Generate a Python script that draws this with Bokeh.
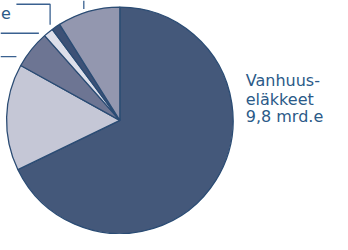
import numpy as np
from bokeh.plotting import figure
from bokeh.models import Range1d, ColumnDataSource
from bokeh.core.properties import value
from bokeh.embed import file_html
from bokeh.resources import INLINE

# --- data (mrd. euroa), clockwise from 12 o'clock ---
categories = ["Vanhuuseläkkeet", "Muu 1", "Muu 2", "Muu 3", "Muu 4", "Muu 5"]
values = [9.8, 2.2, 0.78, 0.2, 0.18, 1.29]
colors = ["#44587a", "#c5c7d6", "#6d7593", "#dddfea", "#3d5176", "#9397af"]
label_lines = ["Vanhuus-", "eläkkeet", "9,8 mrd.e"]
partial_label = "e"

# --- layout (reference pixel units, y measured downward) ---
S = 234 / 250
W, H = 332, 234
CX, CY, R = 127.5, 128.0, 121.0
TEXT_COLOR = "#2b5a88"
LINE_COLOR = "#2b4c74"

def Y(ry):
    return 250 - ry

p = figure(width=W, height=H, output_backend="svg", toolbar_location=None,
           x_range=Range1d(0, W / S), y_range=Range1d(0, 250),
           min_border=0, outline_line_color=None)
p.axis.visible = False
p.grid.visible = False
p.background_fill_color = "white"
p.border_fill_color = "white"

vals = np.array(values, dtype=float)
frac = vals / vals.sum()
cum = np.concatenate([[0], np.cumsum(frac)])
start = np.pi / 2 - 2 * np.pi * cum[:-1]
end = np.pi / 2 - 2 * np.pi * cum[1:]

src = ColumnDataSource(dict(x=[CX] * len(vals), y=[Y(CY)] * len(vals),
                            start=start, end=end, color=colors, cat=categories))
p.wedge(x="x", y="y", radius=R, start_angle="start", end_angle="end",
        direction="clock", fill_color="color", line_color=LINE_COLOR,
        line_width=1.3, source=src)

# label on the right
baselines = [85, 105.5, 124]
p.text(x=[262] * 3, y=[Y(b) for b in baselines], text=label_lines,
       text_font=value("DejaVu Sans"), text_font_size="16px",
       text_color=TEXT_COLOR, text_baseline="alphabetic", text_align="left")

# partial label at top-left
p.text(x=[0.5], y=[Y(13)], text=[partial_label], text_font=value("DejaVu Sans"),
       text_font_size="16px", text_color=TEXT_COLOR,
       text_baseline="alphabetic", text_align="left")

# leader lines
leaders = [
    ([17, 53, 53], [4, 4, 26]),
    ([0, 41], [35, 35]),
    ([0, 17], [60, 60]),
    ([89, 89], [0, 9]),
]
for xs, ys in leaders:
    p.line(xs, [Y(v) for v in ys], line_color="#3a6190", line_width=1.3)

open("out.html", "w").write(file_html(p, INLINE))
